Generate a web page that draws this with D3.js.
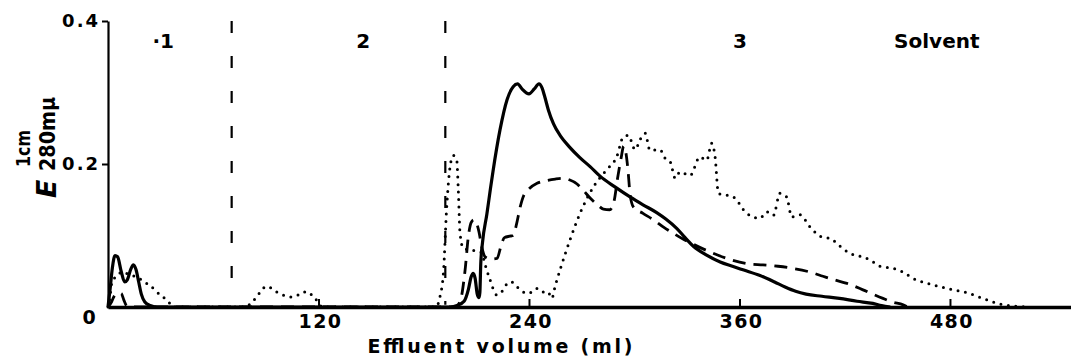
<!DOCTYPE html>
<html>
<head>
<meta charset="utf-8">
<script src="https://cdn.jsdelivr.net/npm/d3@7/dist/d3.min.js"></script>
<style>
  body { margin: 0; background: #fff; }
  svg text { font-family: "DejaVu Sans", sans-serif; font-weight: bold; fill: #000; }
</style>
</head>
<body>
<svg id="chart" width="1071" height="357"></svg>
<script>
// effluent volume (ml) vs E(1cm, 280 m\u03bc)
var solidPts = [
  [0,0],[1.2,0.025],[2.5,0.055],[4,0.072],[5.5,0.07],[7.5,0.05],[9.5,0.035],[11,0.038],[13,0.053],
  [14.5,0.059],[16,0.052],[17.5,0.035],[19,0.018],[21,0.007],[24,0.002],[28,0],
  [195,0],[199,0.002],[203,0.008],[205.5,0.025],[207,0.042],[208.2,0.047],[209.3,0.04],[210.5,0.018],
  [211.5,0.013],[212,0.02],[212.5,0.06],[213.5,0.09],[216,0.13],[218,0.165],[219.5,0.19],[223.5,0.248],
  [227.5,0.29],[231,0.308],[233.5,0.312],[236,0.305],[240,0.298],[243,0.305],[245.7,0.312],[247.5,0.306],
  [249,0.294],[251,0.276],[254,0.256],[258,0.239],[263,0.224],[269,0.209],[275,0.196],[280.5,0.183],
  [289,0.168],[297.6,0.154],[305,0.143],[312.8,0.132],[318,0.123],[324.2,0.11],[329,0.097],
  [333.7,0.085],[341,0.073],[349,0.063],[356,0.057],[362,0.052],[371.7,0.044],[380,0.035],[386,0.028],
  [392,0.022],[398,0.018],[407,0.015],[417,0.012],[427,0.008],[436,0.005],[441,0.002],[446,0]
];
var dashedPts = [
  [0,0],[2,0.007],[3.5,0.015],[5,0.019],[7.5,0.019],[9,0.01],[10.5,0.002],[12,0],
  [198,0],[201,0.01],[203.5,0.05],[205.5,0.1],[207,0.118],[208.5,0.122],[210,0.118],[211.5,0.105],
  [213,0.085],[215,0.07],[218,0.067],[221.8,0.068],[224,0.085],[226,0.097],[229,0.099],[231,0.1],
  [233,0.117],[235,0.14],[237,0.156],[239.5,0.164],[244.6,0.173],[250.3,0.177],[255,0.179],[259.4,0.18],
  [263,0.178],[267.4,0.172],[271,0.163],[275,0.152],[279,0.143],[282.4,0.137],[286,0.136],[288.5,0.148],
  [290.5,0.18],[292.5,0.208],[294,0.225],[295.3,0.215],[296.6,0.187],[297.6,0.158],[299.5,0.14],
  [305,0.131],[310.9,0.122],[316.5,0.112],[322.3,0.103],[327.8,0.095],[331.8,0.09],[341.3,0.079],
  [352.7,0.068],[366,0.06],[373.4,0.059],[382,0.057],[390.5,0.054],[400,0.049],[407.6,0.043],
  [414,0.038],[421.3,0.033],[430.4,0.024],[436,0.018],[441.8,0.012],[447,0.007],[453.3,0.003],[456,0]
];
var dottedPts = [
  [0,0],[1,0.012],[2.1,0.033],[3.5,0.04],[5,0.042],[7.8,0.049],[10.7,0.047],[13.5,0.044],[16.4,0.042],
  [19,0.038],[22,0.033],[26.8,0.024],[30,0.016],[32.5,0.012],[35.3,0.005],[37,0],
  [78.7,0],[81.9,0.007],[84.8,0.014],[86.7,0.021],[90.5,0.029],[93.3,0.026],[96.2,0.021],[99.4,0.017],
  [104.2,0.014],[108.5,0.017],[111.3,0.021],[114.2,0.021],[117,0.014],[119.9,0.007],[122,0],
  [187,0],[189.3,0.015],[191.2,0.047],[193.1,0.14],[195,0.196],[196.9,0.212],[198.8,0.206],[199.7,0.164],
  [200.7,0.103],[202.6,0.082],[206.4,0.08],[210,0.078],[213,0.076],[214.8,0.061],[217.8,0.038],
  [221.6,0.017],[225.4,0.024],[228,0.034],[230.2,0.035],[232.5,0.03],[234.9,0.024],[239.7,0.019],
  [244.4,0.026],[247,0.024],[249.1,0.019],[251,0.02],[253,0.012],[255,0.03],[257.7,0.052],[263.4,0.094],
  [269.1,0.131],[276.7,0.168],[284.3,0.192],[290,0.21],[293.8,0.238],[296.6,0.24],[300.5,0.22],
  [303.5,0.235],[306.2,0.243],[309,0.219],[314.7,0.22],[317.6,0.208],[320.5,0.203],[323.4,0.18],
  [326.1,0.189],[331.8,0.184],[337.5,0.21],[341.3,0.205],[344.2,0.229],[346.1,0.21],[348,0.159],
  [356.5,0.154],[364.1,0.131],[371.7,0.124],[375.5,0.133],[379.3,0.128],[383.1,0.159],[386.9,0.154],
  [389.8,0.126],[394.5,0.129],[400.2,0.112],[406.9,0.098],[411.6,0.096],[417.3,0.085],[423,0.075],
  [428.7,0.071],[434.4,0.066],[440.1,0.057],[447.5,0.054],[453.2,0.049],[459,0.04],[470.4,0.031],
  [480,0.025],[489.5,0.02],[498.9,0.012],[508.6,0.004],[517,0.001],[525.7,0]
];

var xTicks = [120, 240, 360, 480];
var yTicks = [0.2, 0.4];
var dividerX = [70.5, 192.3];
var dividerBottom = [0.025, 0.003];
var regionLabels = ["\u00b71", "2", "3", "Solvent"];
var regionX = [31.5, 145.5, 360.3, 472.5];

var svg = d3.select("#chart");

var x = d3.scaleLinear().domain([0, 549]).range([108, 1071]);
var y = d3.scaleLinear().domain([0, 0.4]).range([307, 21]);

var line = d3.line()
  .x(function(d) { return x(d[0]); })
  .y(function(d) { return y(d[1]); })
  .curve(d3.curveMonotoneX);

// region dividers
svg.selectAll(".divider")
  .data(dividerX)
  .enter().append("line")
  .attr("class", "divider")
  .attr("x1", d => x(d)).attr("x2", d => x(d))
  .attr("y1", y(0.4))
  .attr("y2", (d, i) => y(dividerBottom[i]))
  .attr("stroke", "#000")
  .attr("stroke-width", 2.2)
  .attr("stroke-dasharray", "12,23");

svg.selectAll(".region")
  .data(regionLabels)
  .enter().append("text")
  .attr("class", "region")
  .attr("x", (d, i) => x(regionX[i]))
  .attr("y", y(0.362))
  .attr("text-anchor", "middle")
  .attr("font-size", 20)
  .text(d => d);

// curves
svg.append("path").datum(dottedPts)
  .attr("d", line)
  .attr("fill", "none")
  .attr("stroke", "#000")
  .attr("stroke-width", 3)
  .attr("stroke-linecap", "round")
  .attr("stroke-dasharray", "0,7.5");

svg.append("path").datum(dashedPts)
  .attr("d", line)
  .attr("fill", "none")
  .attr("stroke", "#000")
  .attr("stroke-width", 2.8)
  .attr("stroke-dasharray", "13,8");

svg.append("path").datum(solidPts)
  .attr("d", line)
  .attr("fill", "none")
  .attr("stroke", "#000")
  .attr("stroke-width", 3.2)
  .attr("stroke-linejoin", "round");

// axes
var xAxis = d3.axisBottom(x).tickValues(xTicks).tickSize(-8).tickSizeOuter(0).tickPadding(8);
var gx = svg.append("g").attr("transform", "translate(0," + y(0) + ")").call(xAxis);
gx.select(".domain").attr("stroke-width", 3.5);
gx.selectAll(".tick line").attr("stroke-width", 2);
gx.selectAll("text").attr("font-size", 19).attr("letter-spacing", 1.5).attr("font-family", null)
  .attr("dx", "0.08em");

var yAxis = d3.axisLeft(y).tickValues(yTicks).tickSize(6).tickSizeOuter(0).tickPadding(2)
  .tickFormat(d3.format(".1f"));
var gy = svg.append("g").attr("transform", "translate(" + x(0) + ",0)").call(yAxis);
gy.select(".domain").attr("stroke-width", 2.2);
gy.selectAll(".tick line").attr("stroke-width", 2);
gy.selectAll("text").attr("font-size", 18).attr("letter-spacing", 2).attr("font-family", null);

svg.append("text")
  .attr("x", 89).attr("y", y(0) + 17)
  .attr("text-anchor", "middle")
  .attr("font-size", 19)
  .text("0");

svg.append("text")
  .attr("x", 500).attr("y", 353)
  .attr("text-anchor", "middle")
  .attr("font-size", 19)
  .attr("textLength", 265)
  .attr("lengthAdjust", "spacing")
  .text("Effluent volume (ml)");

// y title: E with 1cm over 280 m-mu
var yt = svg.append("g").attr("transform", "translate(56,198) rotate(-90)");
yt.append("text").attr("x", 0).attr("y", 0)
  .attr("font-size", 27).attr("font-style", "italic").text("E");
yt.append("text").attr("x", 31).attr("y", -26)
  .attr("font-size", 19).attr("textLength", 37).attr("lengthAdjust", "spacingAndGlyphs").text("1cm");
yt.append("text").attr("x", 27).attr("y", -1)
  .attr("font-size", 22).attr("textLength", 74).attr("lengthAdjust", "spacingAndGlyphs").text("280m\u03bc");
</script>
</body>
</html>
